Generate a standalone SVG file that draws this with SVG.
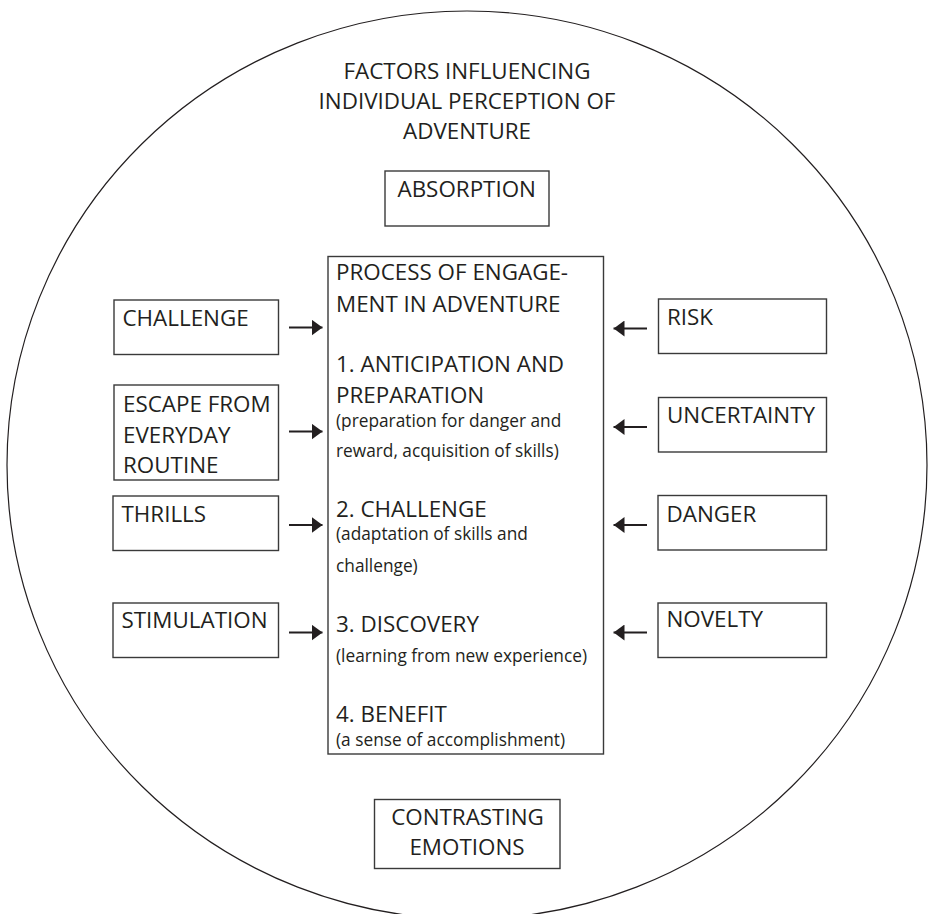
<svg xmlns="http://www.w3.org/2000/svg" width="929" height="914" viewBox="0 0 929 914">
  <style>
    .frame { fill: none; stroke: #231f20; stroke-width: 1.2; }
    .box { fill: #ffffff; stroke: #3a3a3a; stroke-width: 1.4; }
    .t { font-family: "Open Sans", "Noto Sans", "Liberation Sans", sans-serif; font-size: 22.4px; fill: #231f20; }
    .s { font-family: "Open Sans", "Noto Sans", "Liberation Sans", sans-serif; font-size: 17.3px; fill: #231f20; }
    .mid { text-anchor: middle; }
    .arrow { stroke: #231f20; stroke-width: 2.2; fill: none; }
  </style>
  <defs>
    <marker id="head" viewBox="0 0 11 16" refX="11" refY="8" markerWidth="11" markerHeight="16" markerUnits="userSpaceOnUse" orient="auto">
      <path d="M0,0 L11,8 L0,16 Z" fill="#231f20"/>
    </marker>
  </defs>

  <rect width="929" height="914" fill="#ffffff"/>

  <!-- outer boundary -->
  <g id="boundary">
    <ellipse class="frame" cx="467" cy="465" rx="460" ry="454"/>
    <text class="t mid" x="467" y="79">FACTORS INFLUENCING</text>
    <text class="t mid" x="467" y="109">INDIVIDUAL PERCEPTION OF</text>
    <text class="t mid" x="467" y="139">ADVENTURE</text>
  </g>

  <g id="absorption">
    <rect class="box" x="385" y="171" width="164" height="55"/>
    <text class="t" x="397.5" y="196.5">ABSORPTION</text>
  </g>

  <!-- central process -->
  <g id="process">
    <rect class="box" x="328" y="256.5" width="275.5" height="497.5"/>
    <text class="t" x="336" y="280">PROCESS OF ENGAGE-</text>
    <text class="t" x="336" y="312">MENT IN ADVENTURE</text>
    <text class="t" x="336" y="371.5">1. ANTICIPATION AND</text>
    <text class="t" x="336" y="403">PREPARATION</text>
    <text class="s" x="336" y="426.5">(preparation for danger and</text>
    <text class="s" x="336" y="456.5">reward, acquisition of skills)</text>
    <text class="t" x="336" y="516.5">2. CHALLENGE</text>
    <text class="s" x="336" y="539.5">(adaptation of skills and</text>
    <text class="s" x="336" y="571.5">challenge)</text>
    <text class="t" x="336" y="631.5">3. DISCOVERY</text>
    <text class="s" x="336" y="661.5">(learning from new experience)</text>
    <text class="t" x="336" y="721.5">4. BENEFIT</text>
    <text class="s" x="336" y="745.5">(a sense of accomplishment)</text>
  </g>

  <!-- left factors -->
  <g id="challenge">
    <rect class="box" x="114" y="300" width="164.5" height="54.5"/>
    <text class="t" x="122.5" y="325.5">CHALLENGE</text>
  </g>
  <g id="escape">
    <rect class="box" x="114" y="385" width="164.5" height="95"/>
    <text class="t" x="123" y="411.5">ESCAPE FROM</text>
    <text class="t" x="123" y="442.5">EVERYDAY</text>
    <text class="t" x="123" y="472.5">ROUTINE</text>
  </g>
  <g id="thrills">
    <rect class="box" x="113" y="496" width="165.5" height="54.5"/>
    <text class="t" x="121.5" y="521.5">THRILLS</text>
  </g>
  <g id="stimulation">
    <rect class="box" x="113" y="603" width="165.5" height="54.5"/>
    <text class="t" x="121.5" y="628">STIMULATION</text>
  </g>

  <!-- right factors -->
  <g id="risk">
    <rect class="box" x="658.5" y="299" width="168" height="54.5"/>
    <text class="t" x="667" y="325">RISK</text>
  </g>
  <g id="uncertainty">
    <rect class="box" x="658.5" y="397.5" width="168" height="54.5"/>
    <text class="t" x="667" y="423">UNCERTAINTY</text>
  </g>
  <g id="danger">
    <rect class="box" x="658" y="495.5" width="168.5" height="54.5"/>
    <text class="t" x="666.5" y="521.5">DANGER</text>
  </g>
  <g id="novelty">
    <rect class="box" x="658" y="603" width="168.5" height="54.5"/>
    <text class="t" x="666.5" y="627">NOVELTY</text>
  </g>

  <g id="contrasting-emotions">
    <rect class="box" x="374.5" y="799.5" width="185.5" height="69"/>
    <text class="t mid" x="467.5" y="825">CONTRASTING</text>
    <text class="t mid" x="467" y="855">EMOTIONS</text>
  </g>

  <!-- connectors -->
  <g id="connectors">
    <line class="arrow" x1="289" y1="327.5" x2="322.5" y2="327.5" marker-end="url(#head)"/>
    <line class="arrow" x1="289" y1="431.5" x2="322.5" y2="431.5" marker-end="url(#head)"/>
    <line class="arrow" x1="289" y1="525" x2="322.5" y2="525" marker-end="url(#head)"/>
    <line class="arrow" x1="289" y1="632.5" x2="322.5" y2="632.5" marker-end="url(#head)"/>
    <line class="arrow" x1="647" y1="328.5" x2="613.5" y2="328.5" marker-end="url(#head)"/>
    <line class="arrow" x1="647" y1="427" x2="613.5" y2="427" marker-end="url(#head)"/>
    <line class="arrow" x1="647" y1="525" x2="613.5" y2="525" marker-end="url(#head)"/>
    <line class="arrow" x1="647" y1="632.5" x2="613.5" y2="632.5" marker-end="url(#head)"/>
  </g>
</svg>
